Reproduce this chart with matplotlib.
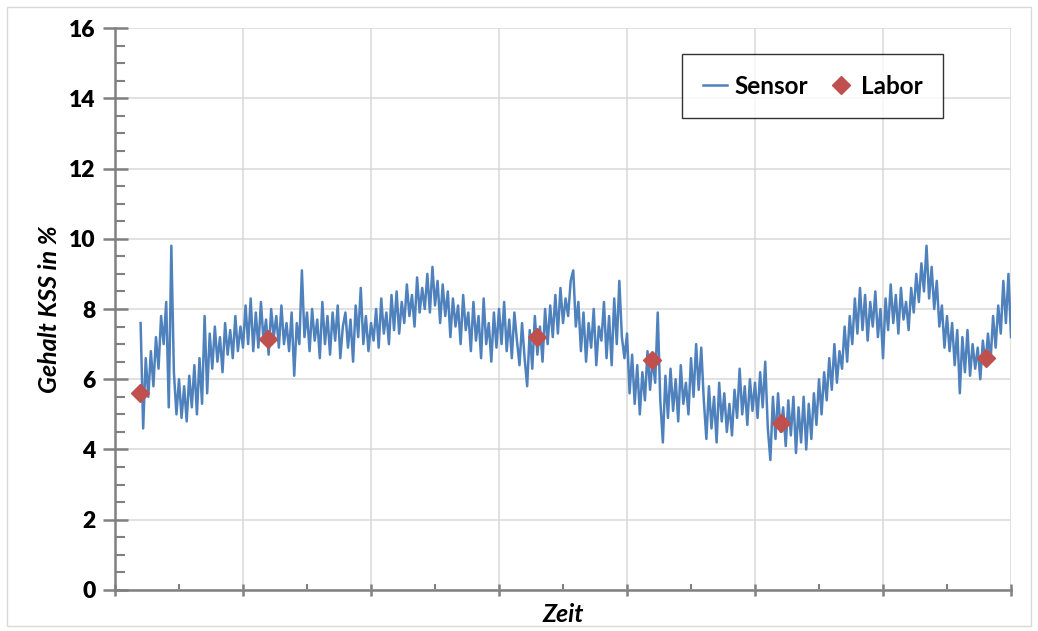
import numpy as np
import matplotlib.pyplot as plt
from matplotlib.patches import Rectangle
from matplotlib.ticker import MultipleLocator

plt.rcParams['font.family'] = ['Lato', 'DejaVu Sans']

# sensor readings, one every 2 time units starting at t=20
sensor_vals = [
    7.6, 4.6, 6.6, 5.5, 6.8, 5.8, 7.2, 6.3, 7.8, 7.0, 8.2, 5.2, 9.8, 6.2, 5.0, 6.0, 4.9, 5.8, 4.8, 6.1,
    5.2, 6.4, 5.0, 6.6, 5.3, 7.8, 5.6, 7.3, 6.3, 7.5, 6.5, 7.2, 6.2, 7.6, 6.7, 7.4, 6.6, 7.8, 6.8, 7.5,
    6.9, 8.1, 7.0, 8.3, 6.8, 7.9, 6.9, 8.2, 7.1, 7.7, 6.7, 8.0, 7.2, 7.8, 6.9, 8.1, 7.0, 7.6, 6.8, 7.9,
    6.1, 7.6, 7.0, 9.1, 7.2, 7.9, 6.8, 8.0, 7.1, 7.7, 6.6, 8.2, 7.0, 7.8, 6.7, 7.9, 7.1, 8.1, 6.6, 7.5,
    7.9, 6.9, 7.7, 6.5, 8.1, 7.2, 8.6, 7.0, 7.8, 6.8, 7.6, 7.1, 8.0, 6.9, 8.3, 7.3, 7.9, 7.0, 8.4, 7.4,
    8.5, 7.3, 8.2, 7.6, 8.7, 7.8, 8.4, 7.5, 8.9, 7.9, 8.6, 8.0, 9.0, 7.9, 9.2, 8.1, 8.8, 7.6, 8.7, 7.8,
    8.5, 7.2, 8.3, 7.5, 8.1, 7.0, 8.4, 7.4, 7.9, 6.8, 8.2, 7.1, 7.8, 6.6, 8.3, 7.0, 7.6, 6.5, 7.9, 6.9,
    8.0, 7.0, 8.2, 6.8, 7.7, 6.6, 7.9, 7.1, 6.4, 7.6, 6.6, 5.8, 7.4, 6.3, 7.8, 6.7, 7.5, 6.5, 8.0, 7.0,
    8.1, 7.2, 8.4, 7.3, 8.6, 7.6, 8.3, 7.8, 8.8, 9.1, 7.5, 8.2, 6.8, 7.9, 6.5, 7.6, 6.9, 8.0, 6.4, 7.5,
    7.1, 8.2, 6.6, 7.8, 6.4, 8.3, 7.0, 8.8, 7.2, 6.6, 7.3, 5.6, 6.7, 5.3, 6.4, 5.0, 6.2, 5.4, 6.8, 5.7,
    6.6, 5.9, 7.9, 5.4, 4.2, 6.1, 4.9, 6.3, 5.1, 6.0, 4.8, 6.4, 5.3, 5.9, 5.0, 6.6, 5.5, 7.0, 5.7, 6.9,
    5.4, 4.3, 5.8, 4.6, 5.5, 4.2, 5.9, 4.8, 5.6, 4.5, 5.3, 4.4, 5.7, 4.9, 6.3, 5.0, 5.8, 4.7, 6.0, 5.1,
    5.9, 4.9, 6.2, 5.2, 6.5, 4.6, 3.7, 5.5, 4.3, 5.6, 4.5, 5.2, 4.1, 5.4, 4.4, 5.5, 3.9, 5.2, 4.2, 5.5,
    4.0, 5.3, 4.3, 5.6, 4.7, 6.0, 5.0, 6.2, 5.4, 6.6, 5.7, 7.0, 5.9, 6.8, 6.3, 7.5, 6.5, 7.8, 7.0, 8.3,
    7.3, 8.6, 7.4, 8.4, 7.1, 8.2, 7.5, 8.5, 7.2, 8.0, 6.6, 8.3, 7.4, 8.7, 7.6, 8.4, 7.3, 8.6, 7.7, 8.2,
    7.4, 8.6, 7.9, 9.0, 8.2, 9.3, 8.5, 9.8, 8.3, 9.2, 8.0, 8.8, 7.5, 8.1, 6.9, 7.8, 6.8, 7.6, 6.4, 7.4,
    5.6, 7.2, 6.2, 7.4, 6.1, 7.0, 6.3, 6.9, 6.0, 7.1, 6.4, 7.3, 6.5, 7.8, 6.9, 8.1, 7.3, 8.8, 7.6, 9.0,
    7.2,
]
sensor_t = np.arange(20, 20 + 2 * len(sensor_vals), 2)

# lab samples
labor_t = [19.5, 119.5, 329.7, 419.5, 520.3, 680.5]
labor_vals = [5.6, 7.15, 7.2, 6.55, 4.75, 6.6]

fig = plt.figure(figsize=(10.38, 6.31), dpi=100)
ax = fig.add_axes([0.1108, 0.065, 0.8632, 0.8906])

ax.plot(sensor_t, sensor_vals, color='#4F81BD', lw=1.8, label='Sensor', zorder=3)
ax.plot(labor_t, labor_vals, 'D', color='#C0504D', ms=9, label='Labor', zorder=4)

ax.set_xlim(0, 700)
ax.set_ylim(0, 16)
ax.xaxis.set_major_locator(MultipleLocator(100))
ax.xaxis.set_minor_locator(MultipleLocator(50))
ax.yaxis.set_major_locator(MultipleLocator(2))
ax.yaxis.set_minor_locator(MultipleLocator(0.5))
ax.set_xticklabels([])
ax.grid(True, which='major', color='#d9d9d9', lw=1.1, zorder=0)
ax.set_axisbelow(True)

for s in ['top', 'right']:
    ax.spines[s].set_visible(False)
for s in ['left', 'bottom']:
    ax.spines[s].set_color('#808080')
    ax.spines[s].set_linewidth(1.8)

ax.tick_params(axis='y', which='major', direction='inout', length=18, width=1.8,
               color='#808080', labelsize=16.5, pad=5)
ax.tick_params(axis='y', which='minor', direction='in', length=7, width=1.5, color='#808080')
ax.tick_params(axis='x', which='major', direction='inout', length=8, width=1.8, color='#808080')
ax.tick_params(axis='x', which='minor', direction='in', length=4, width=1.5, color='#808080')
for lab in ax.get_yticklabels():
    lab.set_fontweight('heavy')

ax.set_ylabel('Gehalt KSS in %', fontsize=18, fontweight='bold', fontstyle='italic', labelpad=6)
ax.set_xlabel('Zeit', fontsize=18, fontweight='bold', fontstyle='italic', labelpad=2)

leg = ax.legend(loc='upper right', bbox_to_anchor=(0.924, 0.954), ncol=2, frameon=True,
                fancybox=False, edgecolor='black', handlelength=1.0, handletextpad=0.3,
                columnspacing=0.85, borderpad=0.85, borderaxespad=0,
                prop={'size': 17.5, 'weight': 'bold'})
leg.get_frame().set_linewidth(1.0)

fig.patches.append(Rectangle((0.007, 0.008), 0.986, 0.981, transform=fig.transFigure,
                             fill=False, edgecolor='#d9d9d9', lw=1))

plt.savefig('out.png', dpi=100)
